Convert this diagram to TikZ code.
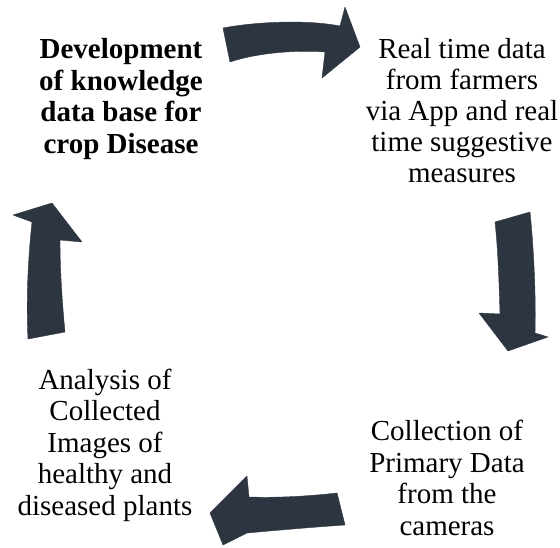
\documentclass[tikz,border=0pt]{standalone}
\usepackage{fontspec}
\setmainfont{Liberation Serif}
\usepackage{tikz}

\definecolor{arrowgray}{RGB}{44,53,64}
\tikzset{
  steptext/.style={align=center, inner sep=0pt, font=\fontsize{29}{31.5}\selectfont},
  bigarrow/.style={fill=arrowgray, draw=arrowgray, line join=round}
}

\begin{document}
\begin{tikzpicture}[x=1pt, y=-1pt]
        \useasboundingbox (0,0) rectangle (560,547);
        \node[steptext, font=\fontsize{29}{31.5}\selectfont\bfseries] (dev) at (121,99) {Development\\of knowledge\\data base for\\crop Disease};
        \node[steptext, font=\fontsize{29}{31}\selectfont] (realtime) at (462,111) {Real time data\\from farmers\\via App and real\\time suggestive\\measures};
        \node[steptext] (collect) at (447,478) {Collection of\\Primary Data\\from the\\cameras};
        \node[steptext] (analysis) at (105,445) {Analysis of\\Collected\\Images of\\healthy and\\diseased plants};
        \draw[bigarrow] (223,28) .. controls (260,21) and (310,20) .. (340,26) -- (345,7) -- (360,47) -- (322,78) -- (325,52) .. controls (300,50) and (260,52) .. (230,62) -- cycle;
        \draw[bigarrow] (495,222) -- (530,212) .. controls (534,250) and (536,300) .. (535,333) -- (548,337) -- (508,351) -- (479,313) -- (500,314) .. controls (499,280) and (498,250) .. (495,222) -- cycle;
        \draw[bigarrow] (337,493) .. controls (310,496) and (280,498) .. (249,497) -- (247,476) -- (210,513) -- (223,545) -- (247,533) .. controls (280,530) and (315,527) .. (345,525) -- cycle;
        \draw[bigarrow] (28,339) .. controls (26,300) and (28,260) .. (32,222) -- (13,215) -- (52,203) -- (82,242) -- (60,240) .. controls (60,270) and (62,300) .. (65,332) -- cycle;
    \end{tikzpicture}
\end{document}
